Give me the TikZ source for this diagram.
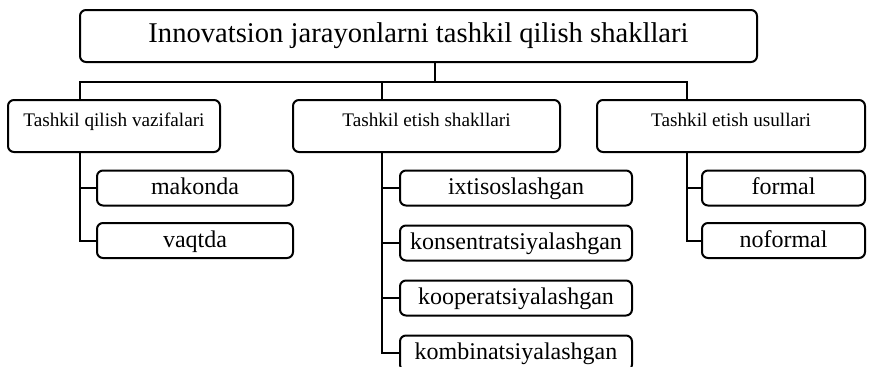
\documentclass[tikz,border=0pt]{standalone}
\usepackage{fontspec}
\setmainfont{Liberation Serif}
\usetikzlibrary{calc}

\begin{document}
\begin{tikzpicture}[
    x=0.5pt, y=-0.5pt,
    every node/.style={align=center},
    frame/.style={rectangle, draw, rounded corners=3pt, line width=1pt},
    titleBox/.style={frame, minimum width=338.5pt, minimum height=26pt, font=\fontsize{14.3}{17}\selectfont},
    headBox/.style={frame, minimum height=26pt, text height=7pt, text depth=7pt, font=\fontsize{9.6}{11}\selectfont},
    itemBox/.style={frame, minimum height=17.5pt, text height=8.2pt, text depth=1.4pt, font=\fontsize{12}{14}\selectfont},
    link/.style={line width=1pt}
]
\useasboundingbox (0,0) rectangle (873,366);

% Nodes
\node[titleBox] (top) at (418.5, 36) {Innovatsion jarayonlarni tashkil qilish shakllari};
\node[headBox, minimum width=106pt] (vazifa) at (114, 126) {Tashkil qilish vazifalari};
\node[headBox, minimum width=133.5pt] (shakl) at (426.5, 126) {Tashkil etish shakllari};
\node[headBox, minimum width=134pt] (usul) at (731, 126) {Tashkil etish usullari};

\node[itemBox, minimum width=98pt] (makon) at (195, 188) {makonda};
\node[itemBox, minimum width=98pt] (vaqt) at (195, 240.5) {vaqtda};

\node[itemBox, minimum width=116pt] (ixt) at (516, 188) {ixtisoslashgan};
\node[itemBox, minimum width=116pt] (kons) at (516, 243) {konsentratsiyalashgan};
\node[itemBox, minimum width=116pt] (koop) at (516, 298) {kooperatsiyalashgan};
\node[itemBox, minimum width=116pt] (komb) at (516, 353) {kombinatsiyalashgan};

\node[itemBox, minimum width=81.5pt] (formal) at (783.5, 188) {formal};
\node[itemBox, minimum width=81.5pt] (noformal) at (783.5, 240.5) {noformal};

% Branch points
\coordinate (bus) at (435, 82);
\coordinate (d1) at ($(vazifa.north west)!0.34!(vazifa.north east)$);
\coordinate (d2) at ($(shakl.north west)!0.333!(shakl.north east)$);
\coordinate (d3) at ($(usul.north west)!0.336!(usul.north east)$);

% Lines
\draw[link] (top.south -| bus) -- (bus);
\draw[link] (d1) -- (d1 |- bus) -- (d3 |- bus) -- (d3);
\draw[link] (d2 |- bus) -- (d2);

\draw[link] (vazifa.south -| d1) |- (makon.west);
\draw[link] (vazifa.south -| d1) |- (vaqt.west);

\draw[link] (shakl.south -| d2) |- (ixt.west);
\draw[link] (shakl.south -| d2) |- (kons.west);
\draw[link] (shakl.south -| d2) |- (koop.west);
\draw[link] (shakl.south -| d2) |- (komb.west);

\draw[link] (usul.south -| d3) |- (formal.west);
\draw[link] (usul.south -| d3) |- (noformal.west);

\end{tikzpicture}
\end{document}
